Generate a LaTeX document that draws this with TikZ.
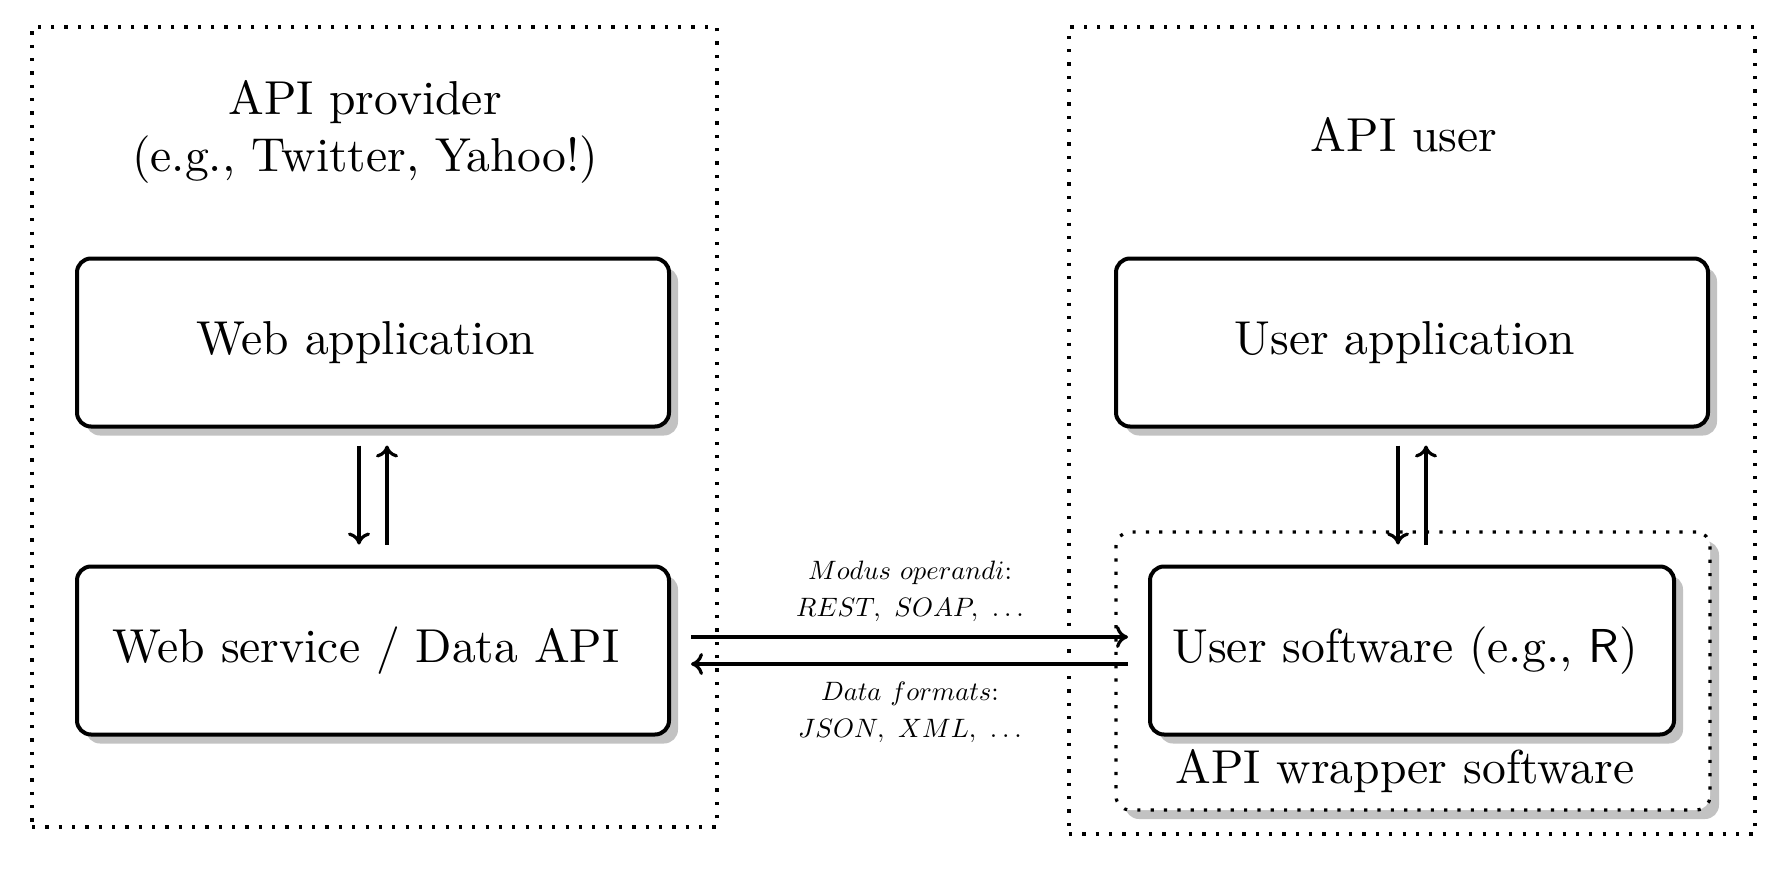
\documentclass[tikz,border=0pt]{standalone}
\usepackage{fontspec}
\setmainfont{lmroman10-regular.otf}
\setsansfont{lmsans10-regular.otf}
\DeclareFontFamily{OML}{cmmten}{\skewchar\font127 }
\DeclareFontShape{OML}{cmmten}{m}{it}{<->cmmi10}{}
\DeclareSymbolFont{letters}{OML}{cmmten}{m}{it}
\usetikzlibrary{arrows.meta,shadows}
\begin{document}
\begin{tikzpicture}[x=0.5pt,y=-0.5pt,
  bigtext/.style={font=\fontsize{23.8}{28.5}\selectfont},
  smalltext/.style={font=\fontsize{13.3}{18.5}\selectfont},
  myshadow/.style={drop shadow={shadow xshift=4.5pt,shadow yshift=-4.5pt,fill=black!24,opacity=1}},
  appbox/.style={draw,line width=2pt,rounded corners=7pt,fill=white,myshadow,bigtext,
    minimum height=84pt,inner sep=0pt},
  dotline/.style={line width=1.6pt,dash pattern=on 1.6pt off 5.07pt},
  outerbox/.style={draw,dotline,inner sep=0pt},
  arr/.style={line width=1.6pt,-{Computer Modern Rightarrow[length=6pt,width=11pt]}}]
\useasboundingbox (0,0) rectangle (1784,872);
% outer dotted regions
\node[outerbox,minimum width=342.5pt,minimum height=400pt] (prov) at (374.5,427) {};
\node[outerbox,minimum width=343pt,minimum height=403.5pt] (user) at (1412,430.5) {};
% titles
\node[bigtext,align=center] (provtitle) at (365,132) {API provider\\(e.g., Twitter, Yahoo!)};
\node[bigtext] (usertitle) at (1404,135) {API user};
% wrapper
\node[draw,dotline,rounded corners=7pt,fill=white,myshadow,minimum width=297pt,minimum height=139pt,inner sep=0pt] (wrap) at (1413,671) {};
\node[bigtext] (wraplabel) at (1405,771) {API wrapper software};
% boxes
\node[appbox,minimum width=296pt] (webapp) at (373,342.5) {\hspace*{-7pt}Web application};
\node[appbox,minimum width=296pt] (websvc) at (373,650.5) {\hspace*{-7pt}Web service / Data API};
\node[appbox,minimum width=296pt] (userapp) at (1412,342.5) {\hspace*{-7pt}User application};
\node[appbox,minimum width=262pt] (usersw) at (1412,650.5) {\hspace*{-7pt}User software (e.g., \textsf{R})};
% vertical arrows
\draw[arr,shorten <=8.5pt,shorten >=10pt] ([xshift=-7pt]webapp.south) -- ([xshift=-7pt]websvc.north);
\draw[arr,shorten <=10pt,shorten >=8.5pt] ([xshift=7pt]websvc.north) -- ([xshift=7pt]webapp.south);
\draw[arr,shorten <=8.5pt,shorten >=10pt] ([xshift=-7pt]userapp.south) -- ([xshift=-7pt]usersw.north);
\draw[arr,shorten <=10pt,shorten >=8.5pt] ([xshift=7pt]usersw.north) -- ([xshift=7pt]userapp.south);
% horizontal arrows
\draw[arr,shorten <=10pt,shorten >=10pt] ([yshift=6.75pt]websvc.east) -- ([yshift=6.75pt]usersw.west);
\draw[arr,shorten <=10pt,shorten >=10pt] ([yshift=-6.75pt]usersw.west) -- ([yshift=-6.75pt]websvc.east);
% labels
\node[smalltext,align=center] (modus) at (910,591) {$Modus\ operandi$:\\$REST,\ SOAP,\ \ldots$};
\node[smalltext,align=center] (formats) at (910,712) {$Data\ formats$:\\$JSON,\ XML,\ \ldots$};
\end{tikzpicture}
\end{document}
